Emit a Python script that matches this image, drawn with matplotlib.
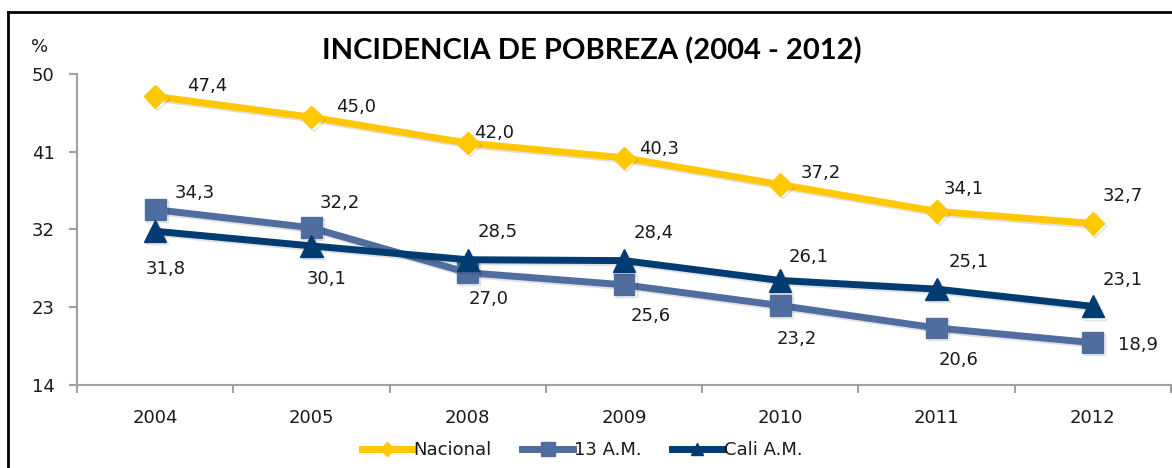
import matplotlib
matplotlib.use("Agg")
import matplotlib.pyplot as plt
import matplotlib.patheffects as pe
from matplotlib.lines import Line2D
import numpy as np

years = ["2004", "2005", "2008", "2009", "2010", "2011", "2012"]
nacional = [47.4, 45.0, 42.0, 40.3, 37.2, 34.1, 32.7]
am13 = [34.3, 32.2, 27.0, 25.6, 23.2, 20.6, 18.9]
cali = [31.8, 30.1, 28.5, 28.4, 26.1, 25.1, 23.1]
yticks = [14, 23, 32, 41, 50]
title = "INCIDENCIA DE POBREZA (2004 - 2012)"
series_names = ["Nacional", "13 A.M.", "Cali A.M."]

# label offsets in pixels (dx, dy up positive)
off_nac = [(52, 10), (45, 10), (26, 10), (35, 9), (41, 12), (27, 22), (30, 27)]
off_am = [(40, 17), (28, 25), (21, -26), (27, -31), (16, -33), (22, -32), (45, -2)]
off_cali = [(11, -38), (15, -33), (30, 28), (30, 28), (28, 23), (32, 27), (30, 26)]

plt.rcParams['font.family'] = ['DejaVu Sans']
W, H = 1172, 468
fig = plt.figure(figsize=(W / 100, H / 100), dpi=100)
ax = fig.add_axes([77 / W, 1 - 385 / H, (1171 - 77) / W, (385 - 74) / H])

x = np.arange(len(years))
col_nac = "#FFC800"
col_am = "#4F6D9E"
col_cali = "#003B71"
shadow = [pe.SimpleLineShadow(offset=(1.5, -1.5), alpha=0.12, shadow_color="black"), pe.Normal()]

ax.plot(x, nacional, color=col_nac, lw=5, marker="D", ms=11.5, zorder=3, path_effects=shadow)
ax.plot(x, am13, color=col_am, lw=5, marker="s", ms=15, zorder=3, path_effects=shadow)
ax.plot(x, cali, color=col_cali, lw=5, marker="^", ms=16, zorder=4, path_effects=shadow)

txtcol = "#1a1a1a"
for vals, offs in [(nacional, off_nac), (am13, off_am), (cali, off_cali)]:
    for xi, v, (dx, dy) in zip(x, vals, offs):
        ax.annotate(f"{v:.1f}".replace(".", ","), (xi, v), xytext=(dx * 0.72, dy * 0.72),
                    textcoords="offset points", ha="center", va="center",
                    fontsize=13, color=txtcol)

ax.set_xlim(-0.5, len(years) - 0.5)
ax.set_ylim(14, 50)
ax.set_yticks(yticks)
ax.set_yticklabels([str(t) for t in yticks])
ax.set_xticks(x)
ax.set_xticklabels(years)
ax.set_xticks(np.arange(-0.5, len(years)), minor=True)
ax.tick_params(axis="x", which="major", length=0, pad=17, labelsize=13, labelcolor=txtcol)
ax.tick_params(axis="x", which="minor", length=6, width=1.5, color="#A0A0A0", direction="out")
ax.tick_params(axis="y", length=6, width=1.5, color="#A0A0A0", pad=10, labelsize=13, labelcolor=txtcol)
for s in ["top", "right"]:
    ax.spines[s].set_visible(False)
for s in ["left", "bottom"]:
    ax.spines[s].set_color("#A0A0A0")
    ax.spines[s].set_linewidth(1.5)

fig.text(592 / W, 1 - 51 / H, title, ha="center", va="center", fontsize=21,
         fontweight="bold", color="#000000", family=["Lato", "DejaVu Sans"])
fig.text(40 / W, 1 - 47 / H, "%", ha="center", va="center", fontsize=13, color=txtcol)

handles = [Line2D([], [], color=col_nac, lw=5, marker="D", ms=7),
           Line2D([], [], color=col_am, lw=5, marker="s", ms=10),
           Line2D([], [], color=col_cali, lw=5, marker="^", ms=9)]
fig.legend(handles, series_names, loc="center", bbox_to_anchor=(582 / W, 1 - 450 / H),
           ncol=3, frameon=False, fontsize=13, handlelength=2.8, handletextpad=0.05,
           columnspacing=1.7, labelcolor=txtcol)

# chart border (top and left)
fig.add_artist(Line2D([8 / W, 1], [1 - 12 / H, 1 - 12 / H], color="black", lw=2,
                      transform=fig.transFigure))
fig.add_artist(Line2D([8 / W, 8 / W], [0, 1 - 12 / H], color="black", lw=2,
                      transform=fig.transFigure))

fig.savefig("out.png", dpi=100, facecolor="white")
